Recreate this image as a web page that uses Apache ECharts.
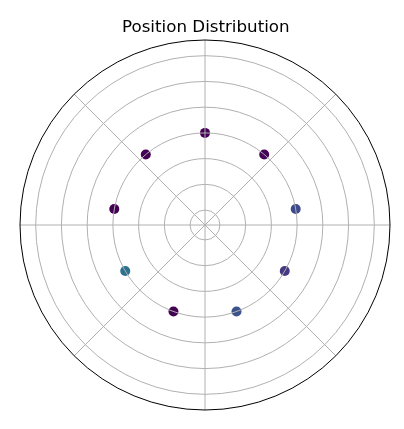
<!DOCTYPE html>
<html>
<head>
<meta charset="utf-8">
<script src="https://cdn.jsdelivr.net/npm/echarts@6/dist/echarts.min.js"></script>
<style>
  html, body { margin: 0; padding: 0; background: #fff; }
  #chart { width: 404px; height: 429px; }
</style>
</head>
<body>
<div id="chart"></div>
<script>
// angle in degrees (0 = east, counter-clockwise), radius, colour from viridis
var angles = [10, 50, 90, 130, 170, 210, 250, 290, 330];
var radii = [1.0, 1.0, 1.0, 1.0, 1.0, 1.0, 1.0, 1.0, 1.0];
var colors = ['#3e4a89', '#450457', '#440154', '#440154', '#440154', '#2c728e', '#440154', '#3b528b', '#443983'];
var radiusTicks = [0.97, 0.98, 0.99, 1.00, 1.01, 1.02, 1.03];

var points = angles.map(function (a, i) {
    return {
        value: [radii[i], a],
        itemStyle: { color: colors[i], opacity: 1 }
    };
});

var chart = echarts.init(document.getElementById('chart'));
chart.setOption({
    animation: false,
    title: {
        text: 'Position Distribution',
        left: 117,
        top: 14,
        textStyle: {
            fontFamily: 'DejaVu Sans',
            fontSize: 16.7,
            fontWeight: 'normal',
            color: '#000'
        }
    },
    polar: {
        center: [205, 225],
        radius: 185
    },
    angleAxis: {
        type: 'value',
        min: 0,
        max: 360,
        interval: 45,
        startAngle: 0,
        clockwise: false,
        z: 5,
        axisLine: { show: true, lineStyle: { color: '#000', width: 1 } },
        axisTick: { show: false },
        axisLabel: { show: false },
        splitLine: { show: true, lineStyle: { color: '#b0b0b0', width: 1 } }
    },
    radiusAxis: {
        type: 'value',
        min: 0.9642,
        max: 1.0361,
        z: 5,
        axisLine: { show: false },
        axisTick: { show: false, customValues: radiusTicks },
        axisLabel: { show: false, customValues: radiusTicks },
        splitLine: { show: true, lineStyle: { color: '#b0b0b0', width: 1 } }
    },
    series: [{
        type: 'scatter',
        coordinateSystem: 'polar',
        symbol: 'circle',
        symbolSize: 10,
        z: 2,
        itemStyle: { opacity: 1 },
        data: points
    }]
});
</script>
</body>
</html>
